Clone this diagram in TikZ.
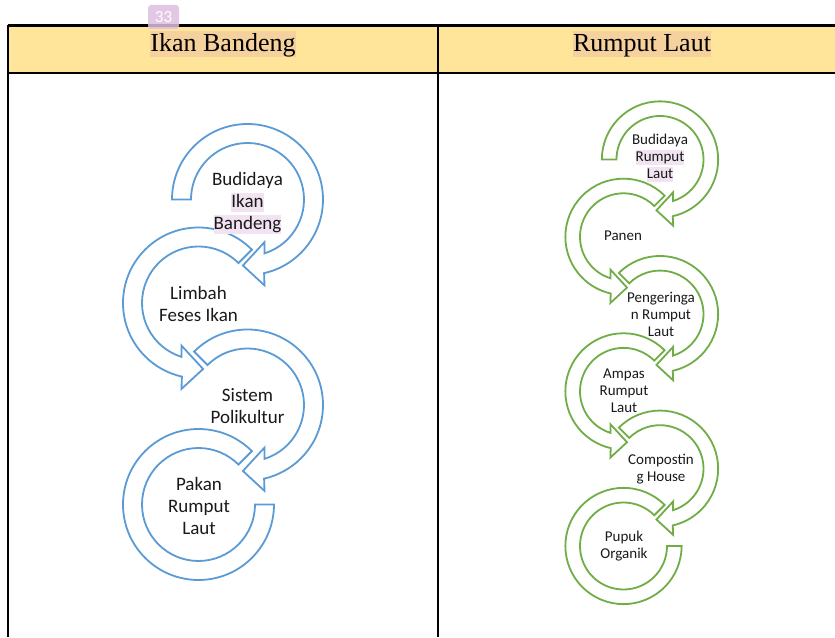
\documentclass[tikz,border=0pt]{standalone}
\usepackage{fontspec}
\newfontfamily\calib{Carlito}
\newfontfamily\tnr{Liberation Serif}
\definecolor{hdrfill}{HTML}{FFE599}
\definecolor{hdrhl}{HTML}{F5D19E}
\definecolor{badgecol}{HTML}{DDBEE1}
\definecolor{hlpink}{HTML}{F1E3F1}
\definecolor{sablue}{HTML}{5B9BD5}
\definecolor{sagreen}{HTML}{70AD47}
\newcommand\hlword[1]{{\setlength{\fboxsep}{0pt}\colorbox{hlpink}{\rule[-0.24em]{0pt}{0.98em}#1}}}
\tikzset{
  tableline/.style={line width=2.4pt, black},
  bluering/.style={draw=sablue, line width=1.8pt, fill=white, line join=miter},
  greenring/.style={draw=sagreen, line width=1.8pt, fill=white, line join=miter},
  bigtxt/.style={font=\calib\fontsize{19}{22}\selectfont, align=center, inner sep=0pt, text=black!90},
  smalltxt/.style={font=\calib\fontsize{15}{17}\selectfont, align=center, inner sep=0pt, text=black!90},
  hdrtxt/.style={font=\tnr\fontsize{26}{30}\selectfont, fill=hdrhl, inner xsep=0pt, inner ysep=0pt, text height=20.5pt, text depth=5.5pt, anchor=base},
  cwarrow/.pic={
    \path[pic actions] (#1:75.5) arc[start angle=#1, end angle=-77.3, radius=75.5]
      -- (17,-85.9) -- (-4.6,-66) -- (17,-42.6) -- (-72.5:56.5)
      arc[start angle=-72.5, end angle=#1, radius=56.5] -- cycle;
  },
  ccwarrow/.pic={
    \path[pic actions] (45:75.5) arc[start angle=45, end angle=257.3, radius=75.5]
      -- (-17,-85.9) -- (4.6,-66) -- (-17,-42.6) -- (252.5:56.5)
      arc[start angle=252.5, end angle=45, radius=56.5] -- cycle;
  },
  lastring/.pic={
    \path[pic actions] (45:75.5) arc[start angle=45, end angle=360, radius=75.5]
      -- (0:56.5) arc[start angle=360, end angle=45, radius=56.5] -- cycle;
  }
}
\begin{document}
\begin{tikzpicture}[x=1pt,y=1pt]
\useasboundingbox (0,0) rectangle (835,637);
% table header
\fill[hdrfill] (8,564) rectangle (835,611.5);
\coordinate (tl) at (8,611.5);
\coordinate (tr) at (835,611.5);
\coordinate (hl) at (8,564);
\coordinate (hr) at (835,564);
\coordinate (bl) at (8,0);
\coordinate (dt) at (438,611.5);
\coordinate (db) at (438,0);
\draw[tableline] (tl) -- (tr);
\draw[tableline] (hl) -- (hr);
\draw[tableline] (tl) -- (bl);
\draw[tableline] (dt) -- (db);
\node[hdrtxt] (hdrL) at (223,585.5) {Ikan Bandeng};
\node[hdrtxt] (hdrR) at (642,585.5) {Rumput Laut};
% page badge
\node[fill=badgecol, fill opacity=0.85, text opacity=1, rounded corners=3pt, minimum width=31pt, minimum height=24pt, inner sep=0pt, text=white, font=\calib\fontsize{17}{20}\selectfont] (badge) at (163.5,620) {33};
% left: blue circular arrows
\pic[bluering] at (247.5,437.5) {cwarrow=180};
\pic[bluering] at (198.5,334) {ccwarrow};
\pic[bluering] at (247.5,232) {cwarrow=135};
\pic[bluering] at (198.5,132.5) {lastring};
% right: green circular arrows
\pic[greenring, scale=0.77] at (660,477.5) {cwarrow=180};
\pic[greenring, scale=0.77] at (623.5,400.2) {ccwarrow};
\pic[greenring, scale=0.77] at (660,322.9) {cwarrow=135};
\pic[greenring, scale=0.77] at (623.5,245.6) {ccwarrow};
\pic[greenring, scale=0.77] at (660,168.3) {cwarrow=135};
\pic[greenring, scale=0.77] at (623.5,91) {lastring};
% texts left
\node[bigtxt] (t1) at (247.5,434) {Budidaya\\\hlword{Ikan}\\\hlword{Bandeng}};
\node[bigtxt] (t2) at (198.5,333.5) {Limbah\\Feses Ikan};
\node[bigtxt] (t3) at (247.5,231) {Sistem\\Polikultur};
\node[bigtxt] (t4) at (199,131) {Pakan\\Rumput\\Laut};
% texts right
\node[smalltxt] (r1) at (660,479) {Budidaya\\\hlword{Rumput}\\\hlword{Laut}};
\node[smalltxt] (r2) at (623,401) {Panen};
\node[smalltxt] (r3) at (661,323) {Pengeringa\\n Rumput\\Laut};
\node[smalltxt] (r4) at (624,246) {Ampas\\Rumput\\Laut};
\node[smalltxt] (r5) at (661,167.5) {Compostin\\g House};
\node[smalltxt] (r6) at (624,91) {Pupuk\\Organik};
\end{tikzpicture}
\end{document}
